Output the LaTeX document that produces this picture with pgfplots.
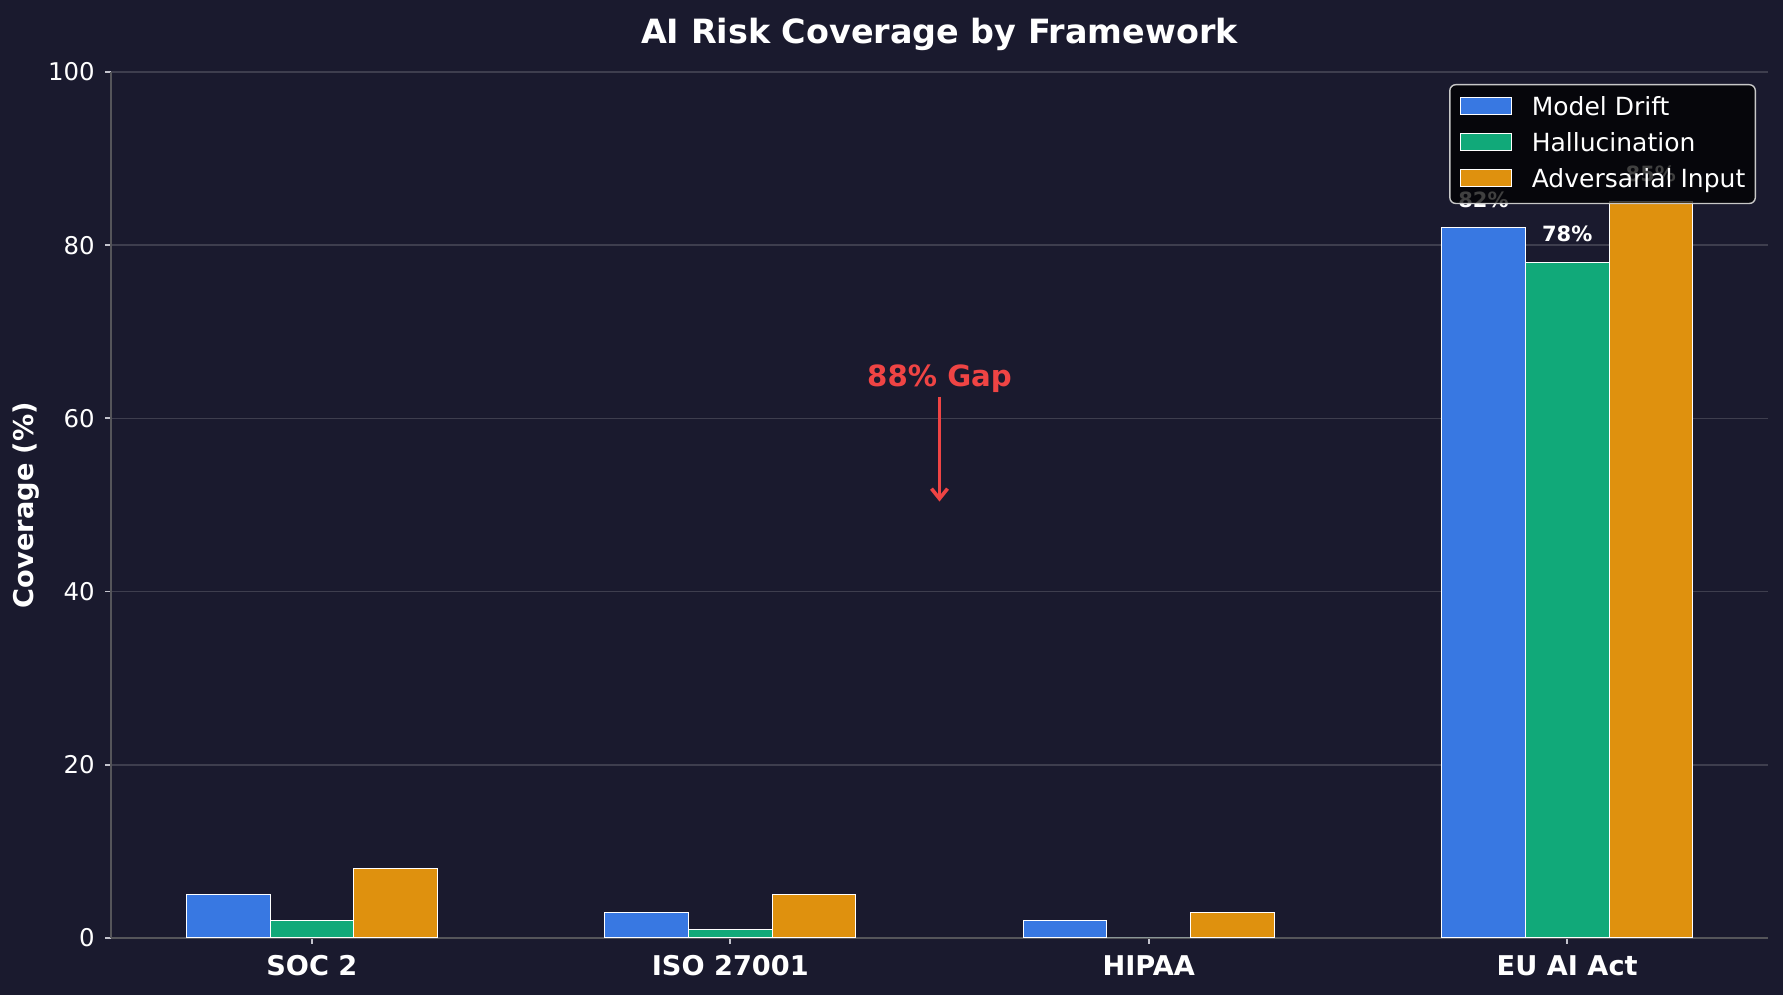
\documentclass[border=0pt]{standalone}
\usepackage{fontspec}
\setmainfont{DejaVu Sans}
\usepackage{pgfplots}
\pgfplotsset{compat=1.18}
\usetikzlibrary{arrows.meta}

\definecolor{bg}{RGB}{26,26,46}
\definecolor{cblue}{RGB}{56,120,226}
\definecolor{cgreen}{RGB}{17,169,121}
\definecolor{corange}{RGB}{223,145,14}
\definecolor{spine}{RGB}{85,85,90}
\definecolor{gridc}{RGB}{62,62,78}
\definecolor{tickc}{RGB}{195,195,205}
\definecolor{gapred}{RGB}{239,68,68}
\definecolor{legedge}{RGB}{200,200,200}

\pgfplotsset{
  layers/barsbelow/.define layer set={axis background,axis grid,main,axis ticks,axis lines,axis tick labels,axis descriptions,axis foreground}{},
  myleg/.style={legend image code/.code={
    \draw[##1,draw=white,line width=0.5pt,fill opacity=1,sharp corners] (0pt,-3.2pt) rectangle (25.5pt,5.5pt);}},
}

\begin{document}
\begin{tikzpicture}
\fill[bg] (-55.5pt,-28.5pt) rectangle (836pt,469pt);
\begin{axis}[
    set layers=barsbelow,
    at={(0pt,0pt)}, anchor=south west,
    scale only axis,
    width=828.5pt, height=433pt,
    ybar, bar width=0.2,
    xmin=-0.48, xmax=3.48,
    ymin=0, ymax=100,
    xtick={0,1,2,3},
    xticklabels={SOC 2, ISO 27001, HIPAA, EU AI Act},
    ytick={0,20,40,60,80,100},
    axis x line*=bottom, axis y line*=left,
    axis line style={-, color=spine, line width=1.1pt},
    tick align=outside, major tick length=2.8pt,
    tick style={color=tickc, line width=0.9pt},
    ymajorgrids, grid style={color=gridc, line width=0.8pt},
    /pgf/number format/assume math mode=true,
    yticklabel style={anchor=east, inner sep=0pt, xshift=-5.2pt, text=white, font=\fontsize{12.2}{14}\selectfont},
    xticklabel style={anchor=base, inner sep=0pt, yshift=-15.9pt, text=white, font=\bfseries\fontsize{13.6}{16}\selectfont},
    ylabel={Coverage (\%)},
    ylabel style={at={(0,0.5)}, yshift=42.5pt, anchor=center, text=white, font=\bfseries\fontsize{13.6}{16}\selectfont},
    title={AI Risk Coverage by Framework},
    title style={at={(0.5,1)}, yshift=8.4pt, anchor=base, inner sep=0pt, text=white, font=\bfseries\fontsize{16.7}{20}\selectfont},
    legend style={at={(1,1)}, xshift=-6pt, yshift=-6pt, anchor=north east,
      fill=black, fill opacity=0.75, text opacity=1, draw=legedge, line width=0.7pt,
      rounded corners=3pt, text=white, font=\fontsize{12.5}{15}\selectfont,
      inner xsep=5pt, inner ysep=5.7pt, row sep=6pt,
      nodes={inner xsep=0pt, inner ysep=0pt, text height=9.5pt, text depth=2.5pt},
      /tikz/every odd column/.append style={column sep=10pt}},
    legend cell align={left},
]
\addplot[fill=cblue, draw=white, line width=0.5pt, bar shift=-0.2, myleg]
  coordinates {(0,5) (1,3) (2,2) (3,82)};
\addplot[fill=cgreen, draw=white, line width=0.5pt, bar shift=0, myleg]
  coordinates {(0,2) (1,1) (2,0) (3,78)};
\addplot[fill=corange, draw=white, line width=0.5pt, bar shift=0.2, myleg]
  coordinates {(0,8) (1,5) (2,3) (3,85)};
\legend{Model Drift, Hallucination, Adversarial Input}

\node[anchor=base, text=white, font=\bfseries\fontsize{10.5}{13}\selectfont] at (axis cs:2.8,84.4) {82\%};
\node[anchor=base, text=white, font=\bfseries\fontsize{10.5}{13}\selectfont] at (axis cs:3.0,80.4) {78\%};
\node[anchor=base, text=white, font=\bfseries\fontsize{10.5}{13}\selectfont] at (axis cs:3.2,87.4) {85\%};

\node[anchor=base, text=gapred, font=\bfseries\fontsize{14.6}{17}\selectfont] at (axis cs:1.5,63.7) {88\% Gap};
\draw[gapred, line width=1.8pt, -{Straight Barb[length=5pt,width=8pt]}] (axis cs:1.5,62.5) -- (axis cs:1.5,50.4);
\end{axis}
\pgfresetboundingbox
\path[use as bounding box] (-55.5pt,-28.5pt) rectangle (836pt,469pt);
\end{tikzpicture}
\end{document}
